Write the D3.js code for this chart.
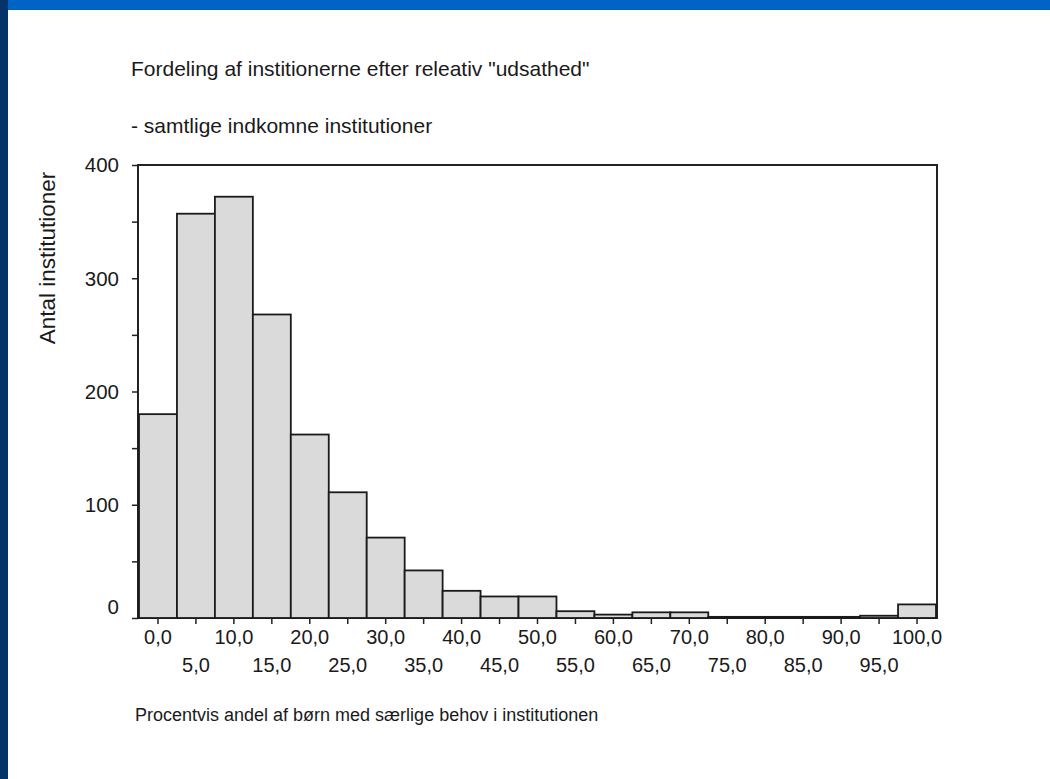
<!DOCTYPE html>
<html>
<head>
<meta charset="utf-8">
<script src="https://cdn.jsdelivr.net/npm/d3@7"></script>
<style>
  html, body { margin: 0; padding: 0; background: #fff; }
  svg { display: block; }
  text { font-family: "Liberation Sans", Arial, sans-serif; fill: #1a1a1a; }
</style>
</head>
<body>
<script>
window.document.addEventListener('DOMContentLoaded', init, false);

var width = 1050;
var height = 779;

// bin centres (% of children with special needs)
var categories = [0, 5, 10, 15, 20, 25, 30, 35, 40, 45, 50, 55, 60, 65, 70, 75, 80, 85, 90, 95, 100];
var tickLabels = ['0,0', '5,0', '10,0', '15,0', '20,0', '25,0', '30,0', '35,0', '40,0', '45,0', '50,0',
                  '55,0', '60,0', '65,0', '70,0', '75,0', '80,0', '85,0', '90,0', '95,0', '100,0'];
var counts = [180, 357, 372, 268, 162, 111, 71, 42, 24, 19, 19, 6, 3, 5, 5, 1, 1, 1, 1, 2, 12];
var yTicks = [0, 100, 200, 300, 400];
var yMinorTicks = [50, 150, 250, 350];

var plot = { left: 138, right: 937, top: 165, bottom: 618 };

var x = d3.scaleBand()
    .domain(categories)
    .range([plot.left + 1, plot.right - 1])
    .padding(0);

var y = d3.scaleLinear()
    .domain([0, 400])
    .range([plot.bottom, plot.top]);

var svg;

function init() {
    svg = createCanvas();
    drawFrame();
    drawBars();
    drawYAxis();
    drawXAxis();
    drawTexts();
}

function createCanvas() {
    var s = d3.select('body')
        .append('svg')
        .attr('width', width)
        .attr('height', height);
    s.append('rect').attr('x', 0).attr('y', 0).attr('width', width).attr('height', height).attr('fill', '#fff');
    // slide decoration
    s.append('rect').attr('x', 8).attr('y', 0).attr('width', width - 8).attr('height', 10).attr('fill', '#0063c6');
    s.append('rect').attr('x', 0).attr('y', 0).attr('width', 8).attr('height', height).attr('fill', '#043468');
    return s;
}

function drawFrame() {
    svg.append('rect')
        .attr('x', plot.left)
        .attr('y', plot.top)
        .attr('width', plot.right - plot.left)
        .attr('height', plot.bottom - plot.top)
        .attr('fill', 'none')
        .attr('stroke', '#222')
        .attr('stroke-width', 2);
}

function drawBars() {
    svg.append('g')
        .selectAll('rect')
        .data(counts)
        .enter()
            .append('rect')
            .attr('x', function(d, i) { return x(categories[i]); })
            .attr('y', function(d) { return y(d); })
            .attr('width', x.bandwidth())
            .attr('height', function(d) { return y(0) - y(d); })
            .attr('fill', '#dadada')
            .attr('stroke', '#1a1a1a')
            .attr('stroke-width', 1.8);
}

function drawYAxis() {
    var axis = d3.axisLeft(y)
        .tickValues(yTicks)
        .tickSize(6)
        .tickPadding(13)
        .tickFormat(d3.format('d'));
    var g = svg.append('g')
        .attr('transform', `translate(${plot.left}, 0)`)
        .call(axis);
    g.select('.domain').remove();
    g.selectAll('line').attr('stroke', '#222').attr('stroke-width', 1.5);
    g.selectAll('text')
        .attr('font-size', 20.5)
        .attr('font-family', '"Liberation Sans", Arial, sans-serif')
        .attr('fill', '#1a1a1a')
        .attr('dy', function(d) { return d === 0 ? '-0.2em' : '0.34em'; });

    var minor = d3.axisLeft(y).tickValues(yMinorTicks).tickSize(6).tickFormat('');
    var m = svg.append('g')
        .attr('transform', `translate(${plot.left}, 0)`)
        .call(minor);
    m.select('.domain').remove();
    m.selectAll('line').attr('stroke', '#222').attr('stroke-width', 1.5);
}

function drawXAxis() {
    var axis = d3.axisBottom(x)
        .tickSize(6)
        .tickFormat(function(d, i) { return tickLabels[i]; });
    var g = svg.append('g')
        .attr('transform', `translate(0, ${plot.bottom})`)
        .call(axis);
    g.select('.domain').remove();
    g.selectAll('line').attr('stroke', '#222').attr('stroke-width', 1.5);
    g.selectAll('text')
        .attr('font-size', 20)
        .attr('font-family', '"Liberation Sans", Arial, sans-serif')
        .attr('fill', '#1a1a1a')
        .attr('dy', 0)
        .attr('y', function(d, i) { return i % 2 === 0 ? 26 : 54; });
}

function drawTexts() {
    svg.append('text')
        .attr('x', 131)
        .attr('y', 76)
        .attr('font-size', 21)
        .text('Fordeling af institionerne efter releativ "udsathed"');

    svg.append('text')
        .attr('x', 131)
        .attr('y', 133)
        .attr('font-size', 21)
        .text('- samtlige indkomne institutioner');

    svg.append('text')
        .attr('transform', 'translate(55, 258) rotate(-90)')
        .attr('text-anchor', 'middle')
        .attr('font-size', 22.5)
        .text('Antal institutioner');

    svg.append('text')
        .attr('x', 135)
        .attr('y', 721)
        .attr('font-size', 18)
        .text('Procentvis andel af børn med særlige behov i institutionen');
}
</script>
</body>
</html>
